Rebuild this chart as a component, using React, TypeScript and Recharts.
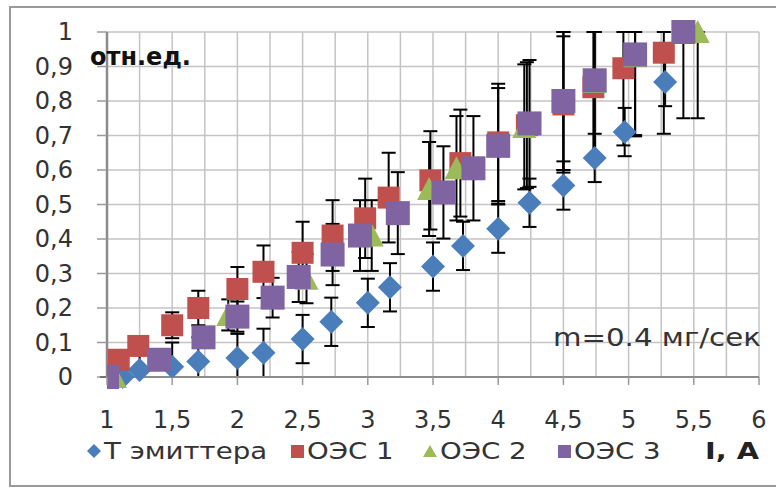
import React from 'react';
import { ScatterChart, Scatter, XAxis, YAxis, CartesianGrid, ErrorBar } from 'recharts';

// ---- data ----
const emitterX = [1.12, 1.25, 1.5, 1.7, 2.0, 2.2, 2.5, 2.72, 3.0, 3.17, 3.5, 3.73, 4.0, 4.24, 4.5, 4.74, 4.97, 5.28];
const emitterY = [0.0, 0.02, 0.03, 0.045, 0.055, 0.07, 0.11, 0.16, 0.215, 0.26, 0.32, 0.38, 0.43, 0.505, 0.555, 0.635, 0.71, 0.855];
const emitterErr = 0.07; // fixed error value

const oes1X = [1.09, 1.24, 1.5, 1.7, 2.0, 2.2, 2.5, 2.73, 2.98, 3.16, 3.48, 3.71, 4.0, 4.22, 4.5, 4.73, 4.96, 5.27];
const oes1Y = [0.05, 0.09, 0.15, 0.2, 0.255, 0.305, 0.36, 0.41, 0.46, 0.52, 0.57, 0.62, 0.68, 0.73, 0.79, 0.84, 0.895, 0.94];

const oes2X = [1.06, 1.93, 2.53, 3.03, 3.47, 3.68, 4.2, 4.5, 4.74, 5.05, 5.53];
const oes2Y = [0.0, 0.18, 0.285, 0.41, 0.545, 0.605, 0.725, 0.8, 0.855, 0.93, 1.0];

const oes3X = [1.0, 1.4, 1.74, 2.0, 2.27, 2.47, 2.73, 2.94, 3.23, 3.58, 3.81, 4.0, 4.24, 4.5, 4.74, 5.05, 5.42];
const oes3Y = [0.0, 0.05, 0.115, 0.175, 0.23, 0.29, 0.355, 0.41, 0.475, 0.535, 0.605, 0.67, 0.735, 0.8, 0.86, 0.935, 1.0];
const oesRelErr = 0.25; // percentage error bars (25%)

const xTicks = [1, 1.25, 1.5, 1.75, 2, 2.25, 2.5, 2.75, 3, 3.25, 3.5, 3.75, 4, 4.25, 4.5, 4.75, 5, 5.25, 5.5, 5.75, 6];
const yTicks = [0, 0.1, 0.2, 0.3, 0.4, 0.5, 0.6, 0.7, 0.8, 0.9, 1];

const seriesNames = ['Т эмиттера', 'ОЭС 1', 'ОЭС 2', 'ОЭС 3'];
const seriesColors = ['#4A7EBB', '#C0504D', '#9BBB59', '#8064A2'];

const Y_MIN = 0;
const Y_MAX = 1;

function build(xs: number[], ys: number[], errFn: (y: number) => number) {
  return xs.map((x, i) => {
    const y = ys[i];
    const e = errFn(y);
    return { x, y, err: [Math.min(e, y - Y_MIN), Math.min(e, Y_MAX - y)] };
  });
}

const emitterData = build(emitterX, emitterY, () => emitterErr);
const oes1Data = build(oes1X, oes1Y, (y) => y * oesRelErr);
const oes2Data = build(oes2X, oes2Y, (y) => y * oesRelErr);
const oes3Data = build(oes3X, oes3Y, (y) => y * oesRelErr);

const FONT = '"DejaVu Sans", sans-serif';

const Diamond = (p: any) => (
  <polygon
    points={`${p.cx},${p.cy - 12} ${p.cx + 12},${p.cy} ${p.cx},${p.cy + 12} ${p.cx - 12},${p.cy}`}
    fill={seriesColors[0]}
  />
);
const SquareRed = (p: any) => <rect x={p.cx - 11} y={p.cy - 11} width={22} height={22} fill={seriesColors[1]} />;
const Triangle = (p: any) => (
  <polygon
    points={`${p.cx},${p.cy - 12} ${p.cx + 12},${p.cy + 11} ${p.cx - 12},${p.cy + 11}`}
    fill={seriesColors[2]}
  />
);
const SquarePurple = (p: any) => <rect x={p.cx - 12} y={p.cy - 12} width={24} height={24} fill={seriesColors[3]} />;

const fmt = (v: number) => String(v).replace('.', ',');

const XTick = (props: any) => {
  const { x, y, payload } = props;
  const v = payload.value as number;
  const major = Math.abs(v * 2 - Math.round(v * 2)) < 1e-6;
  if (!major) return <g />;
  return (
    <g>
      <line x1={x} y1={y} x2={x} y2={y + 8} stroke="#9a9a9a" strokeWidth={1.5} />
      <text x={x} y={y + 43} textAnchor="middle" dominantBaseline="central" fontFamily={FONT} fontSize={24} fill="#333">
        {fmt(v)}
      </text>
    </g>
  );
};

const YTick = (props: any) => {
  const { x, y, payload } = props;
  return (
    <text x={x} y={y} textAnchor="end" dominantBaseline="central" fontFamily={FONT} fontSize={24} fill="#333">
      {fmt(payload.value)}
    </text>
  );
};

const legendMarker = (i: number) => {
  const c = seriesColors[i];
  if (i === 0) return <svg width={14} height={14}><polygon points="7,0 14,7 7,14 0,7" fill={c} /></svg>;
  if (i === 2) return <svg width={14} height={14}><polygon points="7,1 14,13 0,13" fill={c} /></svg>;
  return <svg width={13} height={13}><rect x={0} y={0} width={13} height={13} fill={c} /></svg>;
};

const legendX = [87, 291, 423, 558];

export default function App() {
  return (
    <div style={{ position: 'absolute', left: 0, top: 0, width: 776, height: 491, background: '#fff', overflow: 'hidden' }}>
      <div
        style={{
          position: 'absolute', left: 9, top: 6, width: 780, height: 481,
          border: '2px solid #9a9a9a', boxSizing: 'border-box',
        }}
      />
      <div style={{ position: 'absolute', left: 0, top: 0 }}>
        <ScatterChart width={776} height={491} margin={{ top: 32, right: 17, bottom: 54, left: 47 }}>
          <CartesianGrid stroke="#c4c4c4" strokeWidth={1.5} />
          <XAxis
            type="number"
            dataKey="x"
            domain={[1, 6]}
            ticks={xTicks}
            interval={0}
            height={60}
            tickSize={0}
            tickMargin={0}
            tick={<XTick />}
            axisLine={{ stroke: '#8c8c8c', strokeWidth: 2 }}
            allowDataOverflow
          />
          <YAxis
            type="number"
            dataKey="y"
            domain={[0, 1]}
            ticks={yTicks}
            interval={0}
            width={60}
            tickSize={10}
            tickMargin={24}
            tick={<YTick />}
            tickLine={{ stroke: '#9a9a9a', strokeWidth: 1.5 }}
            axisLine={{ stroke: '#8c8c8c', strokeWidth: 2.5 }}
          />
          <Scatter name={seriesNames[0]} data={emitterData} fill={seriesColors[0]} shape={Diamond} isAnimationActive={false}>
            <ErrorBar dataKey="err" direction="y" width={7} stroke="#000" strokeWidth={2} />
          </Scatter>
          <Scatter name={seriesNames[1]} data={oes1Data} fill={seriesColors[1]} shape={SquareRed} isAnimationActive={false}>
            <ErrorBar dataKey="err" direction="y" width={7} stroke="#000" strokeWidth={2} />
          </Scatter>
          <Scatter name={seriesNames[2]} data={oes2Data} fill={seriesColors[2]} shape={Triangle} isAnimationActive={false}>
            <ErrorBar dataKey="err" direction="y" width={7} stroke="#000" strokeWidth={2} />
          </Scatter>
          <Scatter name={seriesNames[3]} data={oes3Data} fill={seriesColors[3]} shape={SquarePurple} isAnimationActive={false}>
            <ErrorBar dataKey="err" direction="y" width={7} stroke="#000" strokeWidth={2} />
          </Scatter>
        </ScatterChart>
      </div>
      <div style={{ position: 'absolute', left: 90, top: 42, fontFamily: FONT, fontWeight: 'bold', fontSize: 24, color: '#111', lineHeight: '30px' }}>
        отн.ед.
      </div>
      <div
        style={{
          position: 'absolute', left: 553, top: 322, fontFamily: FONT, fontSize: 25, color: '#333', lineHeight: '32px',
          whiteSpace: 'nowrap', transform: 'scaleX(1.17)', transformOrigin: 'left center',
        }}
      >
        m=0.4 мг/сек
      </div>
      {seriesNames.map((n, i) => (
        <div
          key={n}
          style={{
            position: 'absolute', left: legendX[i], top: 436, height: 30, display: 'flex', alignItems: 'center',
            fontFamily: FONT, fontSize: 23, color: '#333', whiteSpace: 'nowrap',
          }}
        >
          {legendMarker(i)}
          <span style={{ marginLeft: 3, display: 'inline-block', transform: 'scaleX(1.2)', transformOrigin: 'left center' }}>{n}</span>
        </div>
      ))}
      <div
        style={{
          position: 'absolute', left: 705, top: 436, height: 30, lineHeight: '30px', fontFamily: FONT, fontWeight: 'bold',
          fontSize: 23, color: '#222', whiteSpace: 'nowrap', transform: 'scaleX(1.25)', transformOrigin: 'left center',
        }}
      >
        I, A
      </div>
    </div>
  );
}
